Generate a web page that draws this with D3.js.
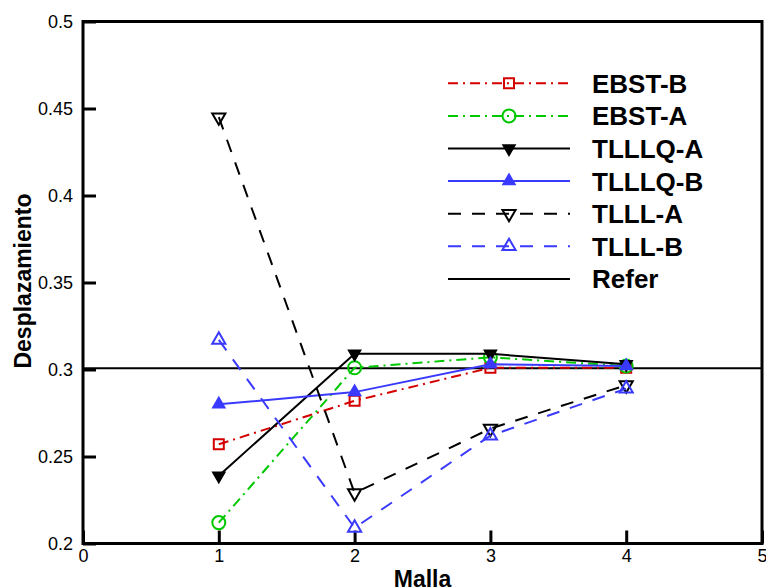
<!DOCTYPE html>
<html>
<head>
<meta charset="utf-8">
<script src="https://cdn.jsdelivr.net/npm/d3@7"></script>
<style>
  html, body { margin: 0; padding: 0; background: #fff; }
  svg { display: block; font-family: "Liberation Sans", Arial, sans-serif; }
</style>
</head>
<body>
<svg id="chart" width="766" height="588"></svg>
<script>
// Mesh levels on the x axis
const mallas = [1, 2, 3, 4];

// Displacement for each element formulation
const ebstB  = [0.257, 0.282, 0.301, 0.301];
const ebstA  = [0.212, 0.301, 0.307, 0.302];
const tlllqA = [0.239, 0.309, 0.309, 0.303];
const tlllqB = [0.280, 0.287, 0.303, 0.302];
const tlllA  = [0.445, 0.229, 0.266, 0.291];
const tlllB  = [0.317, 0.209, 0.262, 0.289];
const referValue = 0.3007;

// Axis ticks
const xTicks = [0, 1, 2, 3, 4, 5];
const yTicks = [0.2, 0.25, 0.3, 0.35, 0.4, 0.45, 0.5];

const RED = "#d40000", GREEN = "#00c800", BLUE = "#3a3aff", BLACK = "#000";
const DASHDOT = "10,5,2,5", DASHED = "13,11";

const series = [
  { name: "EBST-B",  values: ebstB,  color: RED,   dash: DASHDOT, symbol: d3.symbolSquare,   size: 100, rot: 0,   fill: false },
  { name: "EBST-A",  values: ebstA,  color: GREEN, dash: DASHDOT, symbol: d3.symbolCircle,   size: 133, rot: 0,   fill: false },
  { name: "TLLLQ-A", values: tlllqA, color: BLACK, dash: null,    symbol: d3.symbolTriangle, size: 55,  rot: 180, fill: true  },
  { name: "TLLLQ-B", values: tlllqB, color: BLUE,  dash: null,    symbol: d3.symbolTriangle, size: 55,  rot: 0,   fill: true  },
  { name: "TLLL-A",  values: tlllA,  color: BLACK, dash: DASHED,  symbol: d3.symbolTriangle, size: 75,  rot: 180, fill: false },
  { name: "TLLL-B",  values: tlllB,  color: BLUE,  dash: DASHED,  symbol: d3.symbolTriangle, size: 75,  rot: 0,   fill: false }
];

const svg = d3.select("#chart");
const plotLeft = 83, plotRight = 762, plotTop = 21.5, plotBottom = 543.5;

const x = d3.scaleLinear().domain([0, 5]).range([plotLeft, plotRight]);
const y = d3.scaleLinear().domain([0.2, 0.5]).range([plotBottom, plotTop]);

// Axes with inward ticks
const xAxis = d3.axisBottom(x).tickValues(xTicks).tickSizeInner(-13).tickSizeOuter(0)
  .tickPadding(6).tickFormat(d3.format("d"));
const yAxis = d3.axisLeft(y).tickValues(yTicks).tickSizeInner(-13).tickSizeOuter(0)
  .tickPadding(10).tickFormat(d => String(+d.toFixed(2)));

const gx = svg.append("g").attr("transform", `translate(0,${plotBottom})`).call(xAxis);
const gy = svg.append("g").attr("transform", `translate(${plotLeft},0)`).call(yAxis);
[gx, gy].forEach(g => {
  g.select(".domain").remove();
  g.selectAll(".tick line").attr("stroke", BLACK).attr("stroke-width", 3);
  g.selectAll(".tick text").attr("fill", BLACK).style("font-size", "18px")
    .style("font-family", "'Liberation Sans', Arial, sans-serif");
});

// Reference line
const line = d3.line().x((d, i) => x(mallas[i])).y(d => y(d));
svg.append("line")
  .attr("x1", x(0)).attr("x2", x(5))
  .attr("y1", y(referValue)).attr("y2", y(referValue))
  .attr("stroke", BLACK).attr("stroke-width", 2);

// Series lines and markers
function marker(sel, s) {
  sel.append("path")
    .attr("d", d3.symbol().type(s.symbol).size(s.size)())
    .attr("fill", s.fill ? s.color : "none")
    .attr("stroke", s.color)
    .attr("stroke-width", 2);
}

series.forEach(s => {
  const g = svg.append("g");
  g.append("path")
    .datum(s.values)
    .attr("d", line)
    .attr("fill", "none")
    .attr("stroke", s.color)
    .attr("stroke-width", 2)
    .attr("stroke-dasharray", s.dash);
  s.values.forEach((v, i) => {
    g.append("g")
      .attr("transform", `translate(${x(mallas[i])},${y(v)}) rotate(${s.rot})`)
      .call(marker, s);
  });
});

// Frame
svg.append("rect")
  .attr("x", plotLeft).attr("y", plotTop)
  .attr("width", plotRight - plotLeft).attr("height", plotBottom - plotTop)
  .attr("fill", "none").attr("stroke", BLACK).attr("stroke-width", 3);

// Legend
const legendItems = series.concat([{ name: "Refer", color: BLACK, dash: null }]);
const lg = svg.append("g");
legendItems.forEach((s, i) => {
  const ly = 83.3 + i * 32.6;
  lg.append("line")
    .attr("x1", 448).attr("x2", 570).attr("y1", ly).attr("y2", ly)
    .attr("stroke", s.color).attr("stroke-width", 2)
    .attr("stroke-dasharray", s.dash);
  if (s.symbol) {
    lg.append("g").attr("transform", `translate(509,${ly}) rotate(${s.rot})`).call(marker, s);
  }
  lg.append("text")
    .attr("x", 592).attr("y", ly + 9.5)
    .style("font-size", "26px").style("font-weight", "bold")
    .text(s.name);
});

// Axis titles
svg.append("text")
  .attr("x", (plotLeft + plotRight) / 2).attr("y", 587)
  .attr("text-anchor", "middle")
  .style("font-size", "23px").style("font-weight", "bold")
  .text("Malla");

svg.append("text")
  .attr("transform", `translate(31,281) rotate(-90)`)
  .attr("text-anchor", "middle")
  .style("font-size", "23px").style("font-weight", "bold")
  .text("Desplazamiento");
</script>
</body>
</html>
